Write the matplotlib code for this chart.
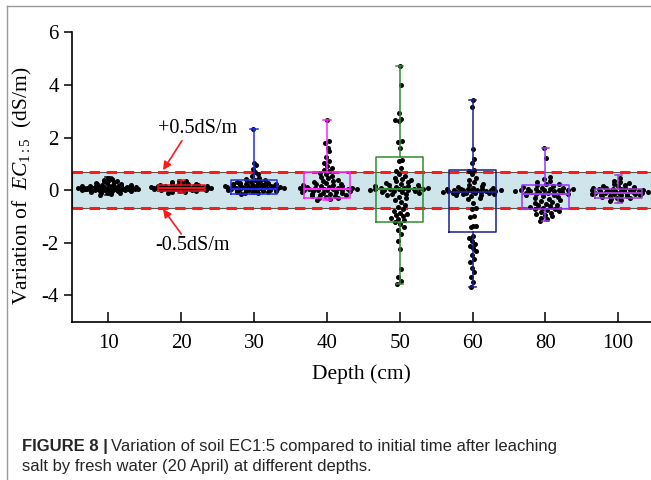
import numpy as np
import matplotlib
matplotlib.use("Agg")
import matplotlib.pyplot as plt
from matplotlib.lines import Line2D

plt.rcParams['font.family'] = ['Liberation Serif', 'DejaVu Serif']
plt.rcParams['mathtext.fontset'] = 'custom'
plt.rcParams['mathtext.rm'] = 'Liberation Serif'
plt.rcParams['mathtext.it'] = 'Liberation Serif:italic'

depths = ['10', '20', '30', '40', '50', '60', '80', '100']
colors = ['black', '#e8141b', '#1f2bf0', '#ff22ff', '#2e8b2e', '#1c1c8a', '#9a33ff', '#a040c8']

# box statistics
q1 = [-0.05, -0.04, -0.14, -0.31, -1.20, -1.59, -0.73, -0.29]
med = [0.05, 0.07, 0.06, 0.03, 0.05, -0.08, -0.16, -0.12]
q3 = [0.10, 0.18, 0.38, 0.68, 1.26, 0.77, 0.18, 0.06]
wlo = [-0.18, -0.10, -0.14, -0.36, -3.57, -3.69, -1.17, -0.48]
whi = [0.49, 0.37, 2.33, 2.67, 4.73, 3.43, 1.60, 0.59]

# individual samples (dS/m)
d10 = [0.45, 0.42, 0.40, 0.38, 0.35, 0.33, 0.30, 0.28, 0.26, 0.24, 0.22, 0.21, 0.20, 0.19, 0.18,
       0.17, 0.16, 0.15, 0.15, 0.14, 0.14, 0.13, 0.13, 0.12, 0.12, 0.11, 0.11, 0.10, 0.10, 0.10,
       0.09, 0.09, 0.08, 0.08, 0.08, 0.07, 0.07, 0.07, 0.06, 0.06, 0.06, 0.05, 0.05, 0.05, 0.04,
       0.04, 0.04, 0.03, 0.03, 0.03, 0.02, 0.02, 0.02, 0.01, 0.01, 0.00, 0.00, -0.01, -0.02, -0.03,
       -0.04, -0.05, -0.06, -0.08, -0.10, -0.12, -0.15, -0.18]
d20 = [0.36, 0.33, 0.30, 0.27, 0.25, 0.23, 0.22, 0.20, 0.19, 0.18, 0.17, 0.16, 0.16, 0.15, 0.15,
       0.14, 0.14, 0.13, 0.13, 0.12, 0.12, 0.11, 0.11, 0.10, 0.10, 0.10, 0.09, 0.09, 0.09, 0.08,
       0.08, 0.08, 0.07, 0.07, 0.07, 0.06, 0.06, 0.06, 0.05, 0.05, 0.05, 0.04, 0.04, 0.03, 0.03,
       0.02, 0.02, 0.01, 0.00, -0.01, -0.02, -0.04, -0.06, -0.08, -0.10]
d30 = [2.33, 1.05, 0.95, 0.82, 0.70, 0.60, 0.52, 0.46, 0.42, 0.40, 0.38, 0.36, 0.34, 0.32, 0.30,
       0.28, 0.27, 0.26, 0.25, 0.24, 0.23, 0.22, 0.21, 0.20, 0.19, 0.18, 0.17, 0.16, 0.15, 0.15,
       0.14, 0.13, 0.12, 0.12, 0.11, 0.10, 0.10, 0.09, 0.08, 0.08, 0.07, 0.06, 0.06, 0.05, 0.04,
       0.04, 0.03, 0.02, 0.01, 0.00, -0.01, -0.02, -0.03, -0.04, -0.05, -0.06, -0.07, -0.08,
       -0.10, -0.12, -0.14]
d40 = [2.67, 1.85, 1.78, 1.62, 1.48, 1.25, 1.12, 1.02, 0.92, 0.85, 0.78, 0.72, 0.66, 0.60, 0.55,
       0.50, 0.45, 0.40, 0.36, 0.33, 0.30, 0.27, 0.25, 0.22, 0.20, 0.18, 0.16, 0.14, 0.12, 0.11,
       0.10, 0.09, 0.08, 0.07, 0.06, 0.05, 0.04, 0.03, 0.03, 0.02, 0.01, 0.00, -0.01, -0.02, -0.04,
       -0.06, -0.08, -0.10, -0.12, -0.14, -0.16, -0.18, -0.20, -0.22, -0.24, -0.26, -0.28, -0.30,
       -0.33, -0.36]
d50 = [4.73, 4.00, 2.95, 2.72, 2.68, 2.62, 1.88, 1.82, 1.62, 1.15, 1.10, 0.85, 0.72, 0.62, 0.55,
       0.48, 0.42, 0.38, 0.33, 0.30, 0.26, 0.23, 0.20, 0.18, 0.16, 0.14, 0.12, 0.10, 0.09, 0.08,
       0.07, 0.06, 0.05, 0.05, 0.04, 0.03, 0.02, 0.01, 0.00, -0.02, -0.04, -0.06, -0.08, -0.10,
       -0.13, -0.16, -0.20, -0.25, -0.30, -0.36, -0.45, -0.55, -0.65, -0.72, -0.80, -0.85, -0.90,
       -0.95, -1.00, -1.05, -1.10, -1.15, -1.22, -1.30, -1.40, -1.52, -1.65, -1.95, -2.25, -2.98,
       -3.30, -3.44, -3.57]
d60 = [3.43, 3.17, 1.55, 1.18, 1.03, 0.78, 0.72, 0.62, 0.45, 0.38, 0.32, 0.25, 0.20, 0.16, 0.13,
       0.10, 0.08, 0.06, 0.05, 0.04, 0.03, 0.02, 0.01, 0.00, 0.00, -0.01, -0.02, -0.03, -0.04,
       -0.05, -0.06, -0.07, -0.08, -0.09, -0.10, -0.11, -0.12, -0.14, -0.16, -0.18, -0.20, -0.23,
       -0.28, -0.35, -0.48, -0.67, -0.70, -1.00, -1.02, -1.36, -1.38, -1.40, -1.74, -1.80, -1.95,
       -2.05, -2.12, -2.20, -2.30, -2.45, -2.60, -2.72, -2.95, -3.10, -3.30, -3.50, -3.69]
d80 = [1.60, 1.22, 0.50, 0.42, 0.35, 0.30, 0.25, 0.22, 0.18, 0.15, 0.12, 0.10, 0.08, 0.06, 0.05,
       0.04, 0.03, 0.02, 0.01, 0.00, -0.01, -0.02, -0.03, -0.05, -0.06, -0.08, -0.10, -0.12, -0.14,
       -0.16, -0.18, -0.20, -0.22, -0.25, -0.28, -0.32, -0.36, -0.40, -0.44, -0.48, -0.52, -0.55,
       -0.58, -0.62, -0.65, -0.68, -0.70, -0.72, -0.75, -0.78, -0.82, -0.86, -0.90, -0.95, -1.00,
       -1.05, -1.10, -1.17]
d100 = [0.45, 0.36, 0.30, 0.26, 0.22, 0.19, 0.16, 0.14, 0.12, 0.10, 0.09, 0.08, 0.06, 0.05, 0.04,
        0.03, 0.02, 0.01, 0.00, -0.01, -0.02, -0.03, -0.04, -0.05, -0.06, -0.07, -0.08, -0.09,
        -0.10, -0.11, -0.12, -0.13, -0.14, -0.15, -0.16, -0.17, -0.18, -0.20, -0.22, -0.24, -0.26,
        -0.28, -0.30, -0.33, -0.36, -0.40]
samples = [d10, d20, d30, d40, d50, d60, d80, d100]

band_lo, band_hi = -0.67, 0.69


def spread(vals, width, bw=0.12):
    # density-scaled horizontal spread, golden-ratio sequence (deterministic)
    v = np.sort(np.asarray(vals, dtype=float))
    dens = np.array([np.exp(-0.5 * ((v - y) / bw) ** 2).sum() for y in v])
    dens = dens / dens.max()
    u = (np.arange(len(v)) * 0.618034) % 1.0 * 2 - 1
    return v, width * dens * u


fig = plt.figure(figsize=(6.51, 4.8), dpi=100)
ax = fig.add_axes([72 / 651, 1 - 321.7 / 480, (651 - 72) / 651, (321.7 - 32.3) / 480])
ax.set_xlim(0.5, 8.45)
ax.set_ylim(-5, 6)

# acceptable band
ax.axhspan(band_lo, band_hi, facecolor='#cfe5ec', edgecolor='#555555', lw=0.8, zorder=1)
for yb in (band_lo, band_hi):
    ax.axhline(yb, color='#ff1a1a', lw=2.2, ls=(0, (3.4, 2.2)), zorder=2)

pos = np.arange(1, len(depths) + 1)
for i, vals in enumerate(samples):
    v, dx = spread(vals, 0.43)
    ax.scatter(pos[i] + dx, v, s=13, color='black', marker='o', lw=0, zorder=3)

for i in range(len(depths)):
    st = dict(med=med[i], q1=q1[i], q3=q3[i], whislo=wlo[i], whishi=whi[i], fliers=[])
    c = colors[i]
    ax.bxp([st], positions=[pos[i]], widths=0.64, showfliers=False, capwidths=0.1,
           boxprops=dict(color=c, lw=1.1), whiskerprops=dict(color=c, lw=1.1),
           capprops=dict(color=c, lw=1.1), medianprops=dict(color=c, lw=1.5),
           manage_ticks=False, zorder=4)

arrow = dict(arrowstyle='-|>', color='#ff1a1a', lw=1.2, shrinkA=0, shrinkB=0, mutation_scale=12)
ax.text(2.22, 2.36, '+0.5dS/m', ha='center', va='center', fontsize=14.5)
ax.annotate('', xy=(1.75, 0.76), xytext=(2.01, 1.88), arrowprops=arrow)
ax.text(2.16, -2.12, '-0.5dS/m', ha='center', va='center', fontsize=14.5)
ax.annotate('', xy=(1.75, -0.72), xytext=(2.0, -1.66), arrowprops=arrow)

ax.set_xticks(pos)
ax.set_xticklabels(depths)
ax.set_yticks([-4, -2, 0, 2, 4, 6])
ax.set_yticklabels(['-4', '-2', '0', '2', '4', '6'])
ax.tick_params(axis='x', direction='in', length=7, width=1.1, labelsize=15, pad=9)
ax.tick_params(axis='y', direction='out', length=6, width=1.1, labelsize=15)
for s in ('top', 'right'):
    ax.spines[s].set_visible(False)
for s in ('left', 'bottom'):
    ax.spines[s].set_linewidth(1.2)

ax.set_xlabel('Depth (cm)', fontsize=15.5, labelpad=8)
ax.set_ylabel(r'Variation of  $\mathit{EC}_{\mathit{1:5}}$  (dS/m)', fontsize=15.5)
ax.yaxis.set_label_coords(-0.066, 0.47)

# caption
fig.canvas.draw()
rend = fig.canvas.get_renderer()
cap = dict(family='Liberation Sans', fontsize=12, va='center', color='#262626')
t1 = fig.text(22 / 651, 1 - 446 / 480, 'FIGURE 8 |', weight='bold', **cap)
bb = t1.get_window_extent(rend)
fig.text(bb.x1 / 651 + 0.005, 1 - 446 / 480,
         'Variation of soil EC1:5 compared to initial time after leaching', **cap)
fig.text(22 / 651, 1 - 467 / 480, 'salt by fresh water (20 April) at different depths.', **cap)

# page frame
fig.add_artist(Line2D([7 / 651, 1], [1 - 6 / 480, 1 - 6 / 480], color='#999999', lw=1))
fig.add_artist(Line2D([7 / 651, 7 / 651], [0, 1 - 6 / 480], color='#999999', lw=1))

fig.savefig('out.png', dpi=100)
